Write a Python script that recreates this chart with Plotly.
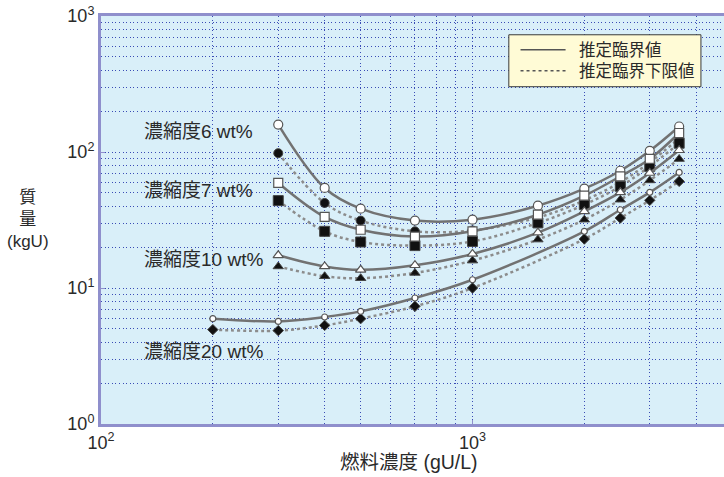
import plotly.graph_objects as go

# ---- data ----
x_main = [300, 400, 500, 700, 1000, 1500, 2000, 2500, 3000, 3600]
x_20 = [200, 300, 400, 500, 700, 1000, 2000, 2500, 3000, 3600]

est_6 = [159, 54.4, 38.3, 31.3, 31.8, 40.3, 53.7, 72.8, 102, 154]
low_6 = [98, 42.2, 31.3, 26.1, 26.5, 33.0, 44.0, 60.0, 84.0, 126]
est_7 = [59.2, 33.3, 26.8, 23.9, 26.1, 34.6, 47.7, 66.2, 88.9, 138]
low_7 = [43.9, 26.1, 21.8, 20.5, 22.0, 30.1, 41.0, 55.9, 78.4, 116]
est_10 = [17.4, 14.4, 13.6, 14.7, 17.8, 25.5, 36.6, 50.5, 70.1, 103]
low_10 = [14.4, 12.2, 11.8, 12.9, 15.9, 22.7, 31.8, 44.6, 61.8, 88.8]
est_20 = [5.95, 5.68, 6.12, 6.73, 8.44, 11.5, 26.1, 37.6, 50.5, 70.8]
low_20 = [4.94, 4.86, 5.31, 5.95, 7.33, 10.0, 22.9, 32.7, 44.1, 60.8]

x_tickvals = [100, 1000]
x_ticktext = ["10<sup>2</sup>", "10<sup>3</sup>"]
y_tickvals = [1, 10, 100, 1000]
y_ticktext = ["10<sup>0</sup>", "10<sup>1</sup>", "10<sup>2</sup>", "10<sup>3</sup>"]

series_labels = ["濃縮度6 wt%", "濃縮度7 wt%", "濃縮度10 wt%", "濃縮度20 wt%"]
legend_labels = ["推定臨界値", "推定臨界下限値"]
x_title = "燃料濃度 (gU/L)"
y_title = "質<br>量<br>(kgU)"

FONT = "Liberation Sans, Arial, Noto Sans CJK JP, sans-serif"
TXT = "#2a2a2a"
GRID = "#3a4cb6"
AXIS = "#8f8fcc"
DOTS = "1px,2.6px"

fig = go.Figure()

series = [
    (x_main, est_6, low_6, "circle", 9, "circle", 9),
    (x_main, est_7, low_7, "square", 9, "square", 10),
    (x_main, est_10, low_10, "triangle-up", 9, "triangle-up", 9),
    (x_20, est_20, low_20, "circle", 6, "diamond", 8),
]

# dotted lower-limit curves
for xs, est, low, sym_o, sz_o, sym_f, sz_f in series:
    fig.add_trace(go.Scatter(
        x=xs, y=low, mode="lines+markers",
        line=dict(color="#8c8c8c", width=2.5, dash="dot", shape="spline", smoothing=1),
        marker=dict(symbol=sym_f, size=sz_f, color="#111111",
                    line=dict(color="#444444", width=1)),
        showlegend=False, hoverinfo="skip"))

# solid estimated critical curves
for xs, est, low, sym_o, sz_o, sym_f, sz_f in series:
    fig.add_trace(go.Scatter(
        x=xs, y=est, mode="lines+markers",
        line=dict(color="#727272", width=2.5, shape="spline", smoothing=1),
        marker=dict(symbol=sym_o, size=sz_o, color="#ffffff",
                    line=dict(color="#555555", width=1.2)),
        showlegend=False, hoverinfo="skip"))

minor_x = [m * 10 ** e for e in (2, 3) for m in range(2, 10)]
minor_y = [m * 10 ** e for e in (0, 1, 2) for m in range(2, 10)]

fig.update_xaxes(
    type="log", range=[2, 3.677],
    tickmode="array", tickvals=x_tickvals, ticktext=x_ticktext,
    showgrid=True, gridcolor=GRID, griddash=DOTS, gridwidth=1,
    minor=dict(tickmode="array", tickvals=minor_x, showgrid=True,
               gridcolor=GRID, griddash=DOTS, gridwidth=1),
    showline=True, linecolor=AXIS, linewidth=3, mirror=True,
    ticks="inside", ticklen=4, tickcolor=AXIS,
    tickfont=dict(size=18, color=TXT, family=FONT),
    zeroline=False,
)
fig.update_yaxes(
    type="log", range=[0, 3],
    tickmode="array", tickvals=y_tickvals, ticktext=y_ticktext,
    showgrid=True, gridcolor=GRID, griddash=DOTS, gridwidth=1,
    minor=dict(tickmode="array", tickvals=minor_y, showgrid=True,
               gridcolor=GRID, griddash=DOTS, gridwidth=1),
    showline=True, linecolor=AXIS, linewidth=3, mirror=False,
    ticks="inside", ticklen=4, tickcolor=AXIS,
    tickfont=dict(size=18, color=TXT, family=FONT),
    zeroline=False,
)

# series labels
label_y = [0.716, 0.572, 0.403, 0.178]
for txt, yy in zip(series_labels, label_y):
    fig.add_annotation(text=txt, xref="paper", yref="paper", x=0.066, y=yy,
                       xanchor="left", yanchor="middle", showarrow=False,
                       font=dict(size=19, color=TXT, family=FONT))

# legend box
fig.add_shape(type="rect", xref="paper", yref="paper",
              x0=0.6546, x1=0.963, y0=0.8267, y1=0.954,
              fillcolor="#fffbd6", line=dict(color="#3a3a3a", width=1))
fig.add_shape(type="line", xref="paper", yref="paper",
              x0=0.6734, x1=0.7457, y0=0.917, y1=0.917,
              line=dict(color="#555555", width=1.5))
fig.add_shape(type="line", xref="paper", yref="paper",
              x0=0.6734, x1=0.7457, y0=0.866, y1=0.866,
              line=dict(color="#555555", width=1.5, dash="dot"))
for txt, yy in zip(legend_labels, [0.917, 0.866]):
    fig.add_annotation(text=txt, xref="paper", yref="paper", x=0.764, y=yy,
                       xanchor="left", yanchor="middle", showarrow=False,
                       font=dict(size=16.5, color=TXT, family=FONT))

# axis titles
fig.add_annotation(text=y_title, xref="paper", yref="paper", x=-0.117, y=0.502,
                   xanchor="center", yanchor="middle", showarrow=False, align="center",
                   font=dict(size=17, color=TXT, family=FONT))
fig.add_annotation(text=x_title, xref="paper", yref="paper", x=0.495, y=-0.092,
                   xanchor="center", yanchor="middle", showarrow=False,
                   font=dict(size=19.5, color=TXT, family=FONT))

fig.update_layout(
    width=724, height=477,
    margin=dict(l=101, r=0, t=16, b=53),
    paper_bgcolor="#ffffff", plot_bgcolor="#d9eff9",
    font=dict(family=FONT, color=TXT),
    showlegend=False,
)

fig.write_html("out.html", config={"displayModeBar": False},
               post_script="document.body.style.margin='0px';document.body.style.overflow='hidden';")
